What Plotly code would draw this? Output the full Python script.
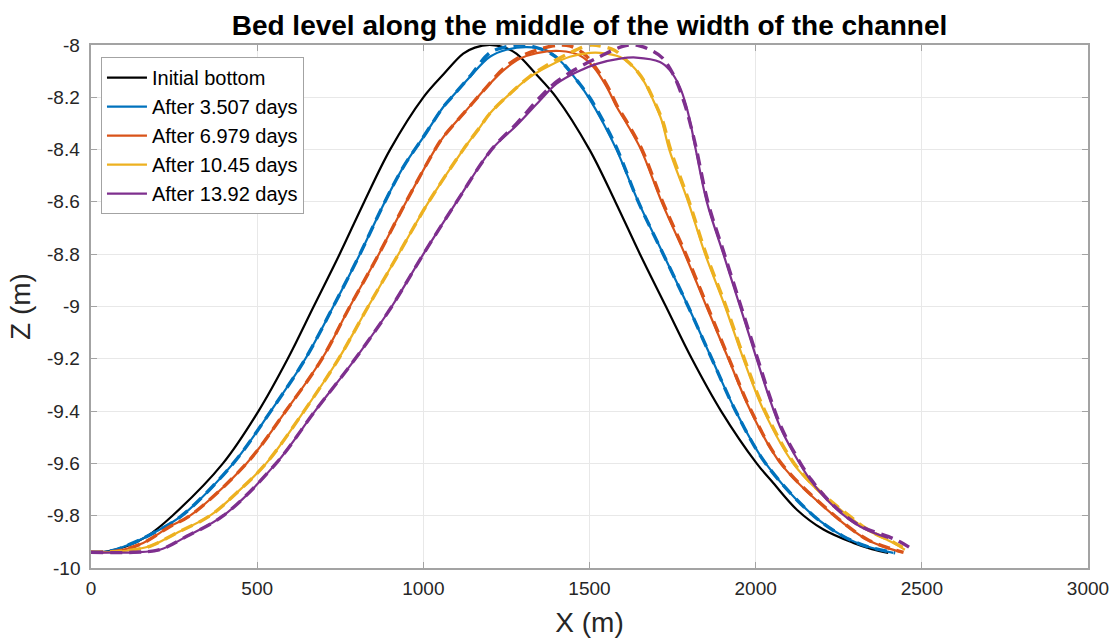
import plotly.graph_objects as go

# ---- Bed level profiles (X in m, Z in m) ----
# Initial bottom
x_init = [0, 50, 107, 168, 245, 397, 504, 592, 670, 748, 822, 900, 1000, 1062, 1120,
          1155, 1200, 1245, 1280, 1338, 1400, 1500, 1578, 1652, 1730, 1808, 1896, 2003,
          2053, 2124, 2204, 2294, 2350, 2399]
z_init = [-9.94, -9.936, -9.917, -9.879, -9.8, -9.6, -9.4, -9.2, -9.0, -8.8, -8.6,
          -8.4, -8.2, -8.11, -8.033, -8.01, -8.0, -8.01, -8.033, -8.11, -8.2, -8.4, -8.6,
          -8.8, -9.0, -9.2, -9.4, -9.6, -9.675, -9.777, -9.853, -9.904, -9.928, -9.942]

# Computed profiles (solid)
x_d1 = [0, 60, 127, 188, 273, 428, 541, 645, 729, 809, 884, 940, 1000, 1060, 1085, 1140,
        1200, 1250, 1311, 1370, 1411, 1462, 1497, 1542, 1582, 1647, 1722, 1797, 1868,
        1940, 2030, 2174, 2264, 2334, 2414]
z_d1 = [-9.94, -9.935, -9.904, -9.866, -9.8, -9.6, -9.4, -9.2, -9.0, -8.8, -8.6,
        -8.466, -8.352, -8.237, -8.2, -8.122, -8.045, -8.018, -8.008, -8.02, -8.059,
        -8.135, -8.2, -8.3, -8.402, -8.6, -8.8, -9.0, -9.2, -9.4, -9.6, -9.8, -9.879,
        -9.917, -9.942]

x_d2 = [0, 80, 157, 238, 298, 468, 586, 695, 779, 866, 948, 1035, 1060, 1125, 1191, 1241,
        1291, 1341, 1411, 1471, 1512, 1552, 1582, 1612, 1655, 1717, 1787, 1852, 1918,
        1985, 2075, 2236, 2334, 2400, 2440]
z_d2 = [-9.94, -9.935, -9.904, -9.841, -9.8, -9.6, -9.4, -9.2, -9.0, -8.8, -8.6,
        -8.4, -8.352, -8.256, -8.161, -8.097, -8.052, -8.031, -8.023, -8.04, -8.084,
        -8.161, -8.237, -8.3, -8.4, -8.6, -8.8, -9.0, -9.2, -9.4, -9.6, -9.8, -9.891,
        -9.925, -9.94]

x_d3 = [0, 100, 177, 258, 358, 438, 527, 641, 745, 834, 925, 1016, 1120, 1171, 1200, 1261,
        1321, 1381, 1441, 1502, 1532, 1592, 1632, 1662, 1692, 1717, 1740, 1797, 1848,
        1908, 1963, 2025, 2113, 2184, 2278, 2334, 2414, 2449]
z_d3 = [-9.94, -9.935, -9.917, -9.866, -9.8, -9.713, -9.6, -9.4, -9.2, -9.0, -8.8, -8.6,
        -8.4, -8.313, -8.262, -8.186, -8.122, -8.078, -8.045, -8.03, -8.03, -8.046,
        -8.084, -8.135, -8.212, -8.288, -8.4, -8.6, -8.8, -9.0, -9.2, -9.4, -9.6, -9.7,
        -9.8, -9.853, -9.904, -9.93]

x_d4 = [0, 127, 207, 288, 398, 557, 674, 795, 905, 1000, 1100, 1205, 1281, 1351, 1401,
        1462, 1522, 1592, 1640, 1712, 1742, 1772, 1792, 1806, 1820, 1853, 1903, 1953,
        2003, 2043, 2073, 2114, 2164, 2234, 2314, 2399]
z_d4 = [-9.94, -9.94, -9.93, -9.879, -9.8, -9.6, -9.4, -9.2, -9.0, -8.8, -8.6, -8.4,
        -8.307, -8.212, -8.148, -8.103, -8.072, -8.052, -8.048, -8.065, -8.097, -8.161,
        -8.237, -8.313, -8.402, -8.6, -8.8, -9.0, -9.2, -9.357, -9.459, -9.56, -9.662,
        -9.764, -9.841, -9.885]

# Analytical profiles (dashed)
xa_d1 = [0, 60, 127, 188, 273, 428, 541, 645, 729, 809, 884, 940, 1000, 1060, 1085, 1140,
         1200, 1245, 1290, 1335, 1380, 1420, 1465, 1500, 1545, 1584, 1647, 1722, 1797,
         1868, 1940, 2030, 2174, 2264, 2334, 2420]
za_d1 = [-9.94, -9.935, -9.904, -9.866, -9.8, -9.6, -9.4, -9.2, -9.0, -8.8, -8.6,
         -8.466, -8.352, -8.237, -8.2, -8.12, -8.03, -8.008, -8.0, -8.008, -8.03, -8.07,
         -8.14, -8.2, -8.3, -8.4, -8.6, -8.8, -9.0, -9.2, -9.4, -9.6, -9.8, -9.879,
         -9.917, -9.942]

xa_d2 = [0, 80, 157, 238, 298, 468, 586, 695, 779, 866, 948, 1035, 1060, 1125, 1191, 1241,
         1291, 1341, 1390, 1415, 1440, 1480, 1515, 1555, 1585, 1615, 1658, 1720, 1790,
         1855, 1920, 1987, 2077, 2238, 2336, 2405, 2445]
za_d2 = [-9.94, -9.935, -9.904, -9.841, -9.8, -9.6, -9.4, -9.2, -9.0, -8.8, -8.6,
         -8.4, -8.352, -8.256, -8.16, -8.09, -8.045, -8.02, -8.003, -8.0, -8.003, -8.03,
         -8.08, -8.16, -8.237, -8.3, -8.4, -8.6, -8.8, -9.0, -9.2, -9.4, -9.6, -9.8,
         -9.891, -9.925, -9.94]

xa_d3 = [0, 100, 177, 258, 358, 438, 527, 641, 745, 834, 925, 1016, 1120, 1171, 1200, 1261,
         1321, 1381, 1441, 1480, 1505, 1535, 1575, 1612, 1640, 1668, 1695, 1720, 1744,
         1800, 1851, 1911, 1966, 2028, 2116, 2187, 2281, 2337, 2418, 2455]
za_d3 = [-9.94, -9.935, -9.917, -9.866, -9.8, -9.713, -9.6, -9.4, -9.2, -9.0, -8.8, -8.6,
         -8.4, -8.313, -8.262, -8.186, -8.12, -8.07, -8.03, -8.008, -8.0, -8.004, -8.02,
         -8.06, -8.095, -8.145, -8.215, -8.29, -8.4, -8.6, -8.8, -9.0, -9.2, -9.4, -9.6,
         -9.7, -9.8, -9.853, -9.904, -9.93]

xa_d4 = [0, 127, 207, 288, 398, 557, 674, 795, 905, 1000, 1100, 1205, 1281, 1351, 1401,
         1462, 1522, 1570, 1600, 1625, 1650, 1685, 1720, 1755, 1785, 1805, 1822, 1856,
         1906, 1956, 2006, 2046, 2076, 2117, 2167, 2237, 2317, 2400, 2434, 2465]
za_d4 = [-9.94, -9.94, -9.93, -9.879, -9.8, -9.6, -9.4, -9.2, -9.0, -8.8, -8.6, -8.4,
         -8.3, -8.2, -8.14, -8.09, -8.05, -8.02, -8.005, -8.0, -8.003, -8.02, -8.05,
         -8.12, -8.22, -8.31, -8.4, -8.6, -8.8, -9.0, -9.2, -9.357, -9.459, -9.56, -9.662,
         -9.764, -9.841, -9.88, -9.90, -9.923]

labels = ["After 3.507 days", "After 6.979 days", "After 10.45 days", "After 13.92 days"]
colors = ["#0072BD", "#D95319", "#EDB120", "#7E2F8E"]
computed = [(x_d1, z_d1), (x_d2, z_d2), (x_d3, z_d3), (x_d4, z_d4)]
analytical = [(xa_d1, za_d1), (xa_d2, za_d2), (xa_d3, za_d3), (xa_d4, za_d4)]

x_ticks = [0, 500, 1000, 1500, 2000, 2500, 3000]
y_ticks = [-10, -9.8, -9.6, -9.4, -9.2, -9, -8.8, -8.6, -8.4, -8.2, -8]
y_ticktext = ["-10", "-9.8", "-9.6", "-9.4", "-9.2", "-9", "-8.8", "-8.6", "-8.4", "-8.2", "-8"]

SMOOTH = 1.0

fig = go.Figure()
fig.add_trace(go.Scatter(x=x_init, y=z_init, mode="lines", name="Initial bottom",
                         line=dict(color="black", width=2.2, shape="spline", smoothing=SMOOTH)))
for (xs, zs), (xa, za), lab, col in zip(computed, analytical, labels, colors):
    fig.add_trace(go.Scatter(x=xs, y=zs, mode="lines", name=lab,
                             line=dict(color=col, width=2.2, shape="spline", smoothing=SMOOTH)))
    fig.add_trace(go.Scatter(x=xa, y=za, mode="lines", showlegend=False, hoverinfo="skip",
                             line=dict(color=col, width=3.4, dash="12px,7px",
                                       shape="spline", smoothing=SMOOTH)))

# Y tick labels placed just left of the axis line
for val, txt in zip(y_ticks, y_ticktext):
    fig.add_annotation(x=0, xref="paper", y=val, yref="y", text=txt, showarrow=False,
                       xanchor="right", yanchor="middle", xshift=-9,
                       font=dict(family="Liberation Sans, Arial, sans-serif", size=19,
                                 color="#262626"))

axis_line = "#a3a3a3"
grid = "#e8e8e8"
fig.update_layout(
    width=1118, height=640,
    margin=dict(l=91, r=30, t=45, b=72),
    plot_bgcolor="white", paper_bgcolor="white",
    font=dict(family="Liberation Sans, Arial, sans-serif", size=19, color="#262626"),
    title=dict(text="<b>Bed level along the middle of the width of the channel</b>",
               x=0.5, xref="paper", xanchor="center", y=1 - 25 / 640, yref="container",
               yanchor="middle", font=dict(size=28, color="black")),
    legend=dict(x=0.01, y=0.977, xanchor="left", yanchor="top", bgcolor="white",
                bordercolor=axis_line, borderwidth=1, font=dict(size=20, color="black"),
                itemwidth=40, tracegroupgap=0),
    showlegend=True,
)
fig.update_xaxes(range=[0, 3000], tickvals=x_ticks, ticktext=[str(v) for v in x_ticks],
                 showgrid=True, gridcolor=grid, gridwidth=1, zeroline=False,
                 showline=True, linecolor=axis_line, linewidth=1.5, mirror="ticks",
                 ticks="inside", ticklen=6, tickcolor=axis_line, ticklabelstandoff=2,
                 automargin=False,
                 title=dict(text="X (m)", font=dict(size=28), standoff=15))
fig.update_yaxes(range=[-10, -8], tickvals=y_ticks, showticklabels=False,
                 showgrid=True, gridcolor=grid, gridwidth=1, zeroline=False,
                 showline=True, linecolor=axis_line, linewidth=1.5, mirror="ticks",
                 ticks="inside", ticklen=6, tickcolor=axis_line, automargin=False,
                 title=dict(text="Z (m)", font=dict(size=28), standoff=50))

fig.write_html("out.html")
